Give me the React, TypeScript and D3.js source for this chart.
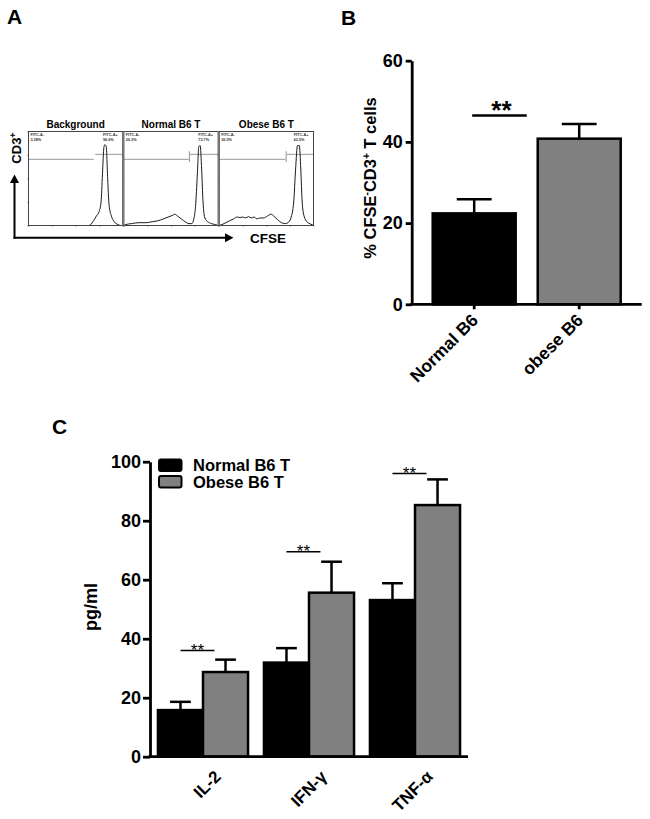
import React, { useEffect, useRef } from 'react';
import * as d3 from 'd3';

const W = 650;
const H = 819;
const FONT = "'Liberation Sans', Arial, Helvetica, sans-serif";

// ---- Panel A: CFSE histograms (x = % of channel range, y = % of box height)
const histTitles = ["Background", "Normal B6 T", "Obese B6 T"];
const gateNegPct = ["3.38%", "26.3%", "36.5%"];
const gatePosPct = ["96.6%", "73.7%", "63.5%"];
const gateSplits = [70, 69.5, 71];
const gateMarks = [false, true, true];

const bgHist: [number, number][] = [
  [0, 0], [64, 0], [66, 1], [69, 5], [72, 10], [75, 15], [77, 25], [78.5, 55],
  [80, 83], [81, 86], [82.5, 84], [84, 50], [85.5, 22], [88, 10], [91, 4], [95, 1], [98, 0], [100, 0],
];
const normalHist: [number, number][] = [
  [0, 0], [2, 1], [8, 2], [16, 3], [24, 3], [30, 4], [36, 5], [42, 7], [47, 9], [52, 11], [54, 12],
  [57, 10], [61, 7], [65, 4], [69, 2], [72, 2], [74, 6], [76, 20], [78, 55], [79.5, 84], [81, 85],
  [82.5, 60], [84, 25], [86, 8], [89, 4], [93, 2], [97, 1], [100, 0],
];
const obeseHist: [number, number][] = [
  [0, 0], [3, 1], [7, 3], [11, 5], [15, 7], [19, 9], [22, 8.5], [25, 9], [28, 8], [31, 9.5], [34, 8],
  [37, 9], [40, 7], [43, 8], [47, 8], [51, 10], [55, 12], [58, 10], [62, 6], [66, 3], [70, 2], [73, 3],
  [76, 8], [79, 25], [81, 60], [83, 85], [85, 85], [86.5, 60], [88, 25], [90, 10], [93, 4], [96, 2], [100, 0],
];
const histograms = [bgHist, normalHist, obeseHist];

// ---- Panel B
const bCategories = ["Normal B6", "obese B6"];
const bMeans = [22.4, 40.8];
const bErrors = [3.5, 3.6];
const bTicks = [0, 20, 40, 60];
const bSignifY = 46.5;

// ---- Panel C
const cCytokines = ["IL-2", "IFN-γ", "TNF-α"];
const cGroups = ["Normal B6 T", "Obese B6 T"];
const cNormalMeans = [15.8, 31.9, 53.1];
const cNormalErrors = [2.8, 4.9, 5.7];
const cObeseMeans = [28.7, 55.6, 85.3];
const cObeseErrors = [4.2, 10.5, 8.7];
const cTicks = [0, 20, 40, 60, 80, 100];
const cSignifY = [36, 69.5, 96];

const GRAY = '#808080';

function styleAxis(ax: any, width: number, fontSize: number) {
  ax.select('.domain').attr('stroke', '#000').attr('stroke-width', width);
  ax.selectAll('.tick line').attr('stroke', '#000').attr('stroke-width', width);
  ax.selectAll('.tick text')
    .attr('fill', '#000')
    .style('font-family', FONT)
    .style('font-size', `${fontSize}px`)
    .style('font-weight', 'bold');
}

function drawPanelA(svg: any) {
  svg.append('text').attr('x', 7).attr('y', 24).text('A')
    .style('font-size', '21px').style('font-weight', 'bold');

  const boxX = d3.scaleBand<string>().domain(histTitles).range([28.5, 313.5]).paddingInner(0.012);
  const top = 131.5;
  const bottom = 225.5;
  const y = d3.scaleLinear().domain([0, 100]).range([bottom, top]);

  histTitles.forEach((title, i) => {
    const x0 = boxX(title)!;
    const x = d3.scaleLinear().domain([0, 100]).range([x0, x0 + boxX.bandwidth()]);
    const logX = d3.scaleLog().domain([10, 100000]).range([x0, x0 + boxX.bandwidth()]);
    const g = svg.append('g');

    g.append('text').attr('x', x0 + boxX.bandwidth() / 2).attr('y', 128)
      .attr('text-anchor', 'middle').text(title)
      .style('font-size', '10px').style('font-weight', 'bold');

    // tiny axis ticks
    g.append('g').attr('transform', `translate(0,${bottom})`)
      .call(d3.axisBottom(logX).ticks(4).tickSize(1.5).tickFormat(() => '').tickSizeOuter(0))
      .call((a: any) => { a.select('.domain').remove(); a.selectAll('line').attr('stroke', '#777').attr('stroke-width', 0.6); });
    g.append('g').attr('transform', `translate(${x0},0)`)
      .call(d3.axisLeft(y).tickValues([0, 25, 50, 75, 100]).tickSize(1.5).tickFormat(() => '').tickSizeOuter(0))
      .call((a: any) => { a.select('.domain').remove(); a.selectAll('line').attr('stroke', '#777').attr('stroke-width', 0.6); });

    // gates
    const split = gateSplits[i];
    g.append('line').attr('x1', x(0)).attr('x2', x(split) - 0.7).attr('y1', y(70.4)).attr('y2', y(70.4))
      .attr('stroke', '#9a9a9a').attr('stroke-width', 1);
    g.append('line').attr('x1', x(split) + 0.7).attr('x2', x(100)).attr('y1', y(75.7)).attr('y2', y(75.7))
      .attr('stroke', '#9a9a9a').attr('stroke-width', 1);
    if (gateMarks[i]) {
      g.append('line').attr('x1', x(split)).attr('x2', x(split)).attr('y1', y(79)).attr('y2', y(67.5))
        .attr('stroke', '#777').attr('stroke-width', 0.8);
    }

    // histogram
    const line = d3.line<[number, number]>().x(d => x(d[0])).y(d => y(d[1])).curve(d3.curveMonotoneX);
    g.append('path').datum(histograms[i]).attr('d', line)
      .attr('fill', 'none').attr('stroke', '#1a1a1a').attr('stroke-width', 1);

    // gate labels
    const small = (tx: number, ty: number, s: string) =>
      g.append('text').attr('x', tx).attr('y', ty).text(s)
        .style('font-size', '3.8px').style('font-weight', 'bold').attr('fill', '#333');
    small(x(2), y(94.8), 'FITC-A-');
    small(x(2), y(90), gateNegPct[i]);
    small(x(79), y(94.8), 'FITC-A+');
    small(x(79), y(90), gatePosPct[i]);

    g.append('rect').attr('x', x0).attr('y', top).attr('width', boxX.bandwidth()).attr('height', bottom - top)
      .attr('fill', 'none').attr('stroke', '#444').attr('stroke-width', 1);
  });

  // axis arrows
  const ax = 14.5;
  const ay = 237.7;
  svg.append('path').attr('d', `M${ax},${ay + 1}V182`).attr('stroke', '#000').attr('stroke-width', 2).attr('fill', 'none');
  svg.append('path').attr('d', `M${ax - 4.5},183L${ax},174.5L${ax + 4.5},183Z`).attr('fill', '#000');
  svg.append('path').attr('d', `M${ax - 1},${ay}H226`).attr('stroke', '#000').attr('stroke-width', 2).attr('fill', 'none');
  svg.append('path').attr('d', `M225,${ay - 4.5}L233.5,${ay}L225,${ay + 4.5}Z`).attr('fill', '#000');

  const cd3 = svg.append('text').attr('transform', 'translate(20.5,148) rotate(-90)')
    .attr('text-anchor', 'middle').style('font-size', '13px').style('font-weight', 'bold');
  cd3.append('tspan').text('CD3');
  cd3.append('tspan').attr('dy', -5).style('font-size', '9px').text('+');

  svg.append('text').attr('x', 250).attr('y', 242.5).text('CFSE')
    .style('font-size', '13.5px').style('font-weight', 'bold');
}

function drawPanelB(svg: any) {
  svg.append('text').attr('x', 341).attr('y', 24.5).text('B')
    .style('font-size', '21px').style('font-weight', 'bold');

  const y = d3.scaleLinear().domain([0, 60]).range([304.3, 60.7]);
  const x = d3.scaleBand<string>().domain(bCategories).range([411.7, 641.7]).paddingInner(0.21).paddingOuter(0.2);
  const g = svg.append('g');
  const bw = x.bandwidth();

  // error bars
  bCategories.forEach((c, i) => {
    const cx = x(c)! + bw / 2;
    g.append('line').attr('x1', cx).attr('x2', cx).attr('y1', y(bMeans[i])).attr('y2', y(bMeans[i] + bErrors[i]))
      .attr('stroke', '#000').attr('stroke-width', 2.5);
    g.append('line').attr('x1', cx - bw * 0.21).attr('x2', cx + bw * 0.21)
      .attr('y1', y(bMeans[i] + bErrors[i])).attr('y2', y(bMeans[i] + bErrors[i]))
      .attr('stroke', '#000').attr('stroke-width', 2.5);
  });

  g.selectAll('rect.bar').data(bCategories).join('rect')
    .attr('class', 'bar')
    .attr('x', (d: string) => x(d)!)
    .attr('y', (_: string, i: number) => y(bMeans[i]))
    .attr('width', bw)
    .attr('height', (_: string, i: number) => y(0) - y(bMeans[i]))
    .attr('fill', (_: string, i: number) => (i === 0 ? '#000' : GRAY))
    .attr('stroke', '#000').attr('stroke-width', 2.5);

  const yAx = g.append('g').attr('transform', `translate(${411.7},0)`)
    .call(d3.axisLeft(y).tickValues(bTicks).tickSize(6).tickSizeOuter(0).tickPadding(3));
  styleAxis(yAx, 2.8, 18);

  const xAx = g.append('g').attr('transform', `translate(0,${y(0)})`)
    .call(d3.axisBottom(x).tickSize(5).tickSizeOuter(0).tickFormat(() => ''));
  styleAxis(xAx, 2.8, 17);
  xAx.select('.domain').attr('d', `M${410.3},0H641.7`);

  bCategories.forEach(c => {
    const px = x(c)! + bw / 2 + 5;
    const py = y(0) + 17;
    g.append('text').attr('transform', `translate(${px},${py}) rotate(-45)`)
      .attr('text-anchor', 'end').text(c)
      .style('font-size', '17.5px').style('font-weight', 'bold');
  });

  // significance
  const x1 = x(bCategories[0])! + bw / 2 - 2;
  const x2 = x(bCategories[1])! - 11;
  g.append('line').attr('x1', x1).attr('x2', x2).attr('y1', y(bSignifY)).attr('y2', y(bSignifY))
    .attr('stroke', '#000').attr('stroke-width', 2.5);
  g.append('text').attr('x', (x1 + x2) / 2 + 2).attr('y', y(bSignifY) + 3).attr('text-anchor', 'middle')
    .text('**').style('font-size', '26px').style('font-weight', 'bold');

  const lab = g.append('text').attr('transform', 'translate(376,178) rotate(-90)')
    .attr('text-anchor', 'middle').style('font-size', '16.5px').style('font-weight', 'bold');
  lab.append('tspan').text('% CFSE');
  lab.append('tspan').attr('dy', -6).style('font-size', '10px').text('-');
  lab.append('tspan').attr('dy', 6).text('CD3');
  lab.append('tspan').attr('dy', -6).style('font-size', '10px').text('+');
  lab.append('tspan').attr('dy', 6).text(' T cells');
}

function drawPanelC(svg: any) {
  svg.append('text').attr('x', 52).attr('y', 433.5).text('C')
    .style('font-size', '21px').style('font-weight', 'bold');

  const y = d3.scaleLinear().domain([0, 100]).range([756.7, 461.7]);
  const x = d3.scaleBand<string>().domain(cCytokines).range([150, 468]).paddingInner(0.15).paddingOuter(0.075);
  const xs = d3.scaleBand<string>().domain(cGroups).range([0, x.bandwidth()]);
  const g = svg.append('g');
  const bw = xs.bandwidth();

  const series = [
    { group: cGroups[0], means: cNormalMeans, errs: cNormalErrors, fill: '#000' },
    { group: cGroups[1], means: cObeseMeans, errs: cObeseErrors, fill: GRAY },
  ];

  series.forEach(s => {
    cCytokines.forEach((c, i) => {
      const cx = x(c)! + xs(s.group)! + bw / 2;
      const top = y(s.means[i] + s.errs[i]);
      g.append('line').attr('x1', cx).attr('x2', cx).attr('y1', y(s.means[i])).attr('y2', top)
        .attr('stroke', '#000').attr('stroke-width', 2.5);
      g.append('line').attr('x1', cx - bw * 0.23).attr('x2', cx + bw * 0.23).attr('y1', top).attr('y2', top)
        .attr('stroke', '#000').attr('stroke-width', 2.5);
    });
  });

  series.forEach(s => {
    g.selectAll(null).data(cCytokines).join('rect')
      .attr('x', (c: string) => x(c)! + xs(s.group)!)
      .attr('y', (_: string, i: number) => y(s.means[i]))
      .attr('width', bw)
      .attr('height', (_: string, i: number) => y(0) - y(s.means[i]))
      .attr('fill', s.fill).attr('stroke', '#000').attr('stroke-width', 2.5);
  });

  const yAx = g.append('g').attr('transform', 'translate(150,0)')
    .call(d3.axisLeft(y).tickValues(cTicks).tickSize(7).tickSizeOuter(0).tickPadding(2));
  styleAxis(yAx, 2.8, 18);

  g.append('line').attr('x1', 148.6).attr('x2', 468).attr('y1', y(0)).attr('y2', y(0))
    .attr('stroke', '#000').attr('stroke-width', 2.8);

  cCytokines.forEach(c => {
    const px = x(c)! + x.bandwidth() / 2 + 19;
    const py = y(0) + 21;
    g.append('text').attr('transform', `translate(${px},${py}) rotate(-45)`)
      .attr('text-anchor', 'end').text(c)
      .style('font-size', '17px').style('font-weight', 'bold');
  });

  // significance
  cCytokines.forEach((c, i) => {
    const x1 = x(c)! + bw / 2;
    const x2 = x1 + 34;
    g.append('line').attr('x1', x1).attr('x2', x2).attr('y1', y(cSignifY[i])).attr('y2', y(cSignifY[i]))
      .attr('stroke', '#000').attr('stroke-width', 1.6);
    g.append('text').attr('x', (x1 + x2) / 2).attr('y', y(cSignifY[i]) + 5.5).attr('text-anchor', 'middle')
      .text('**').style('font-size', '17px');
  });

  // legend
  const leg = g.append('g');
  series.forEach((s, i) => {
    const ly = 459.5 + i * 16.5;
    leg.append('rect').attr('x', 159).attr('y', ly).attr('width', 22.5).attr('height', 11.5).attr('rx', 2)
      .attr('fill', s.fill).attr('stroke', '#000').attr('stroke-width', 2);
    leg.append('text').attr('x', 193).attr('y', ly + 11.8).text(s.group)
      .style('font-size', '16.5px').style('font-weight', 'bold');
  });

  g.append('text').attr('transform', 'translate(97,607) rotate(-90)').attr('text-anchor', 'middle')
    .text('pg/ml').style('font-size', '18px').style('font-weight', 'bold');
}

export default function App() {
  const svgRef = useRef<SVGSVGElement>(null);

  useEffect(() => {
    if (!svgRef.current) return;
    const svg = d3.select(svgRef.current);
    svg.selectAll('*').remove();
    svg.append('rect').attr('width', W).attr('height', H).attr('fill', '#fff');
    drawPanelA(svg);
    drawPanelB(svg);
    drawPanelC(svg);
  }, []);

  return (
    <svg
      ref={svgRef}
      width={W}
      height={H}
      viewBox={`0 0 ${W} ${H}`}
      style={{ position: 'absolute', left: 0, top: 0, fontFamily: FONT }}
    />
  );
}
